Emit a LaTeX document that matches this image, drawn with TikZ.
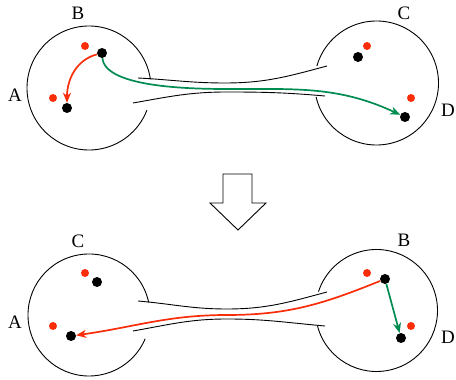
\documentclass[tikz,border=0pt]{standalone}
\usepackage{fontspec}
\setmainfont{Liberation Serif}
\usepackage{xcolor}
\usepackage{tikz}
\usetikzlibrary{arrows.meta,calc}
\definecolor{hopred}{RGB}{250,45,10}
\definecolor{hopgreen}{RGB}{0,140,80}

\begin{document}
\begin{tikzpicture}[
      x=1pt, y=1pt,
      font=\fontsize{19}{22}\selectfont,
      site/.style={circle, fill=black, inner sep=0pt, minimum size=10pt},
      ghost/.style={circle, fill=hopred, inner sep=0pt, minimum size=8pt},
      wall/.style={line width=0.9pt},
      hop/.style={line width=1.7pt, -{Stealth[length=10pt, width=8pt, inset=3pt]}},
      tag/.style={inner sep=0pt}
    ]
    \useasboundingbox (0,0) rectangle (456,380);

    \draw[wall] (89,292) ++(8:62) arc[start angle=8, end angle=339, radius=62];
    \draw[wall] (376.5,297) ++(-167:62) arc[start angle=-167, end angle=164, radius=62];
    \draw[wall] (138,302) to[out=-3, in=180] (225,297) to[out=0, in=195] (327,314);
    \draw[wall] (133,277) to[out=10, in=180] (227,288) to[out=0, in=175] (325,284);

    \node[ghost] (tgB) at (85,334) {};
    \node[site] (tB) at (102,327) {};
    \node[ghost] (tgA) at (53,282) {};
    \node[site] (tA) at (67,272) {};
    \node[ghost] (tgC) at (367,334) {};
    \node[site] (tC) at (358,323) {};
    \node[ghost] (tgD) at (411,282) {};
    \node[site] (tD) at (405,263) {};

    \node[tag] (ltB) at (78,367) {B};
    \node[tag] (ltA) at (15,285) {A};
    \node[tag] (ltC) at (404,367) {C};
    \node[tag] (ltD) at (448,270) {D};

    \coordinate (tmid) at (230,291);
    \draw[hop, hopred] (tB) to[out=195, in=90] (tA);
    \draw[hop, hopgreen, -] (tB) to[out=-85, in=180, looseness=0.6] (tmid);
    \draw[hop, hopgreen] (tmid) to[out=0, in=155] (tD);

    \draw[wall] (223,206) -- (252,206) -- (252,177) -- (266,177) -- (238,150)
      -- (210,177) -- (223,177) -- cycle;

    \draw[wall] (89,65) ++(12:61) arc[start angle=12, end angle=337, radius=61];
    \draw[wall] (376.5,69.5) ++(-165:61) arc[start angle=-165, end angle=162, radius=61];
    \draw[wall] (138,79) to[out=-5, in=180] (227,71) to[out=0, in=195] (327,88);
    \draw[wall] (133,49) to[out=10, in=180] (227,61) to[out=0, in=175] (325,54);

    \node[ghost] (bgC) at (85,107) {};
    \node[site] (bC) at (97,98) {};
    \node[ghost] (bgA) at (53,54) {};
    \node[site] (bA) at (71,44) {};
    \node[ghost] (bgB) at (367,107) {};
    \node[site] (bB) at (385,101) {};
    \node[ghost] (bgD) at (411,54) {};
    \node[site] (bD) at (401,42) {};

    \node[tag] (lbC) at (78,139) {C};
    \node[tag] (lbA) at (15,58) {A};
    \node[tag] (lbB) at (404,140) {B};
    \node[tag] (lbD) at (448,43) {D};

    \coordinate (bmid) at (227,65);
    \draw[hop, hopred, -] (bB) to[out=-158, in=0] (bmid);
    \draw[hop, hopred] (bmid) to[out=180, in=8] (bA);
    \draw[hop, hopgreen] (bB) -- (bD);
  \end{tikzpicture}
\end{document}
